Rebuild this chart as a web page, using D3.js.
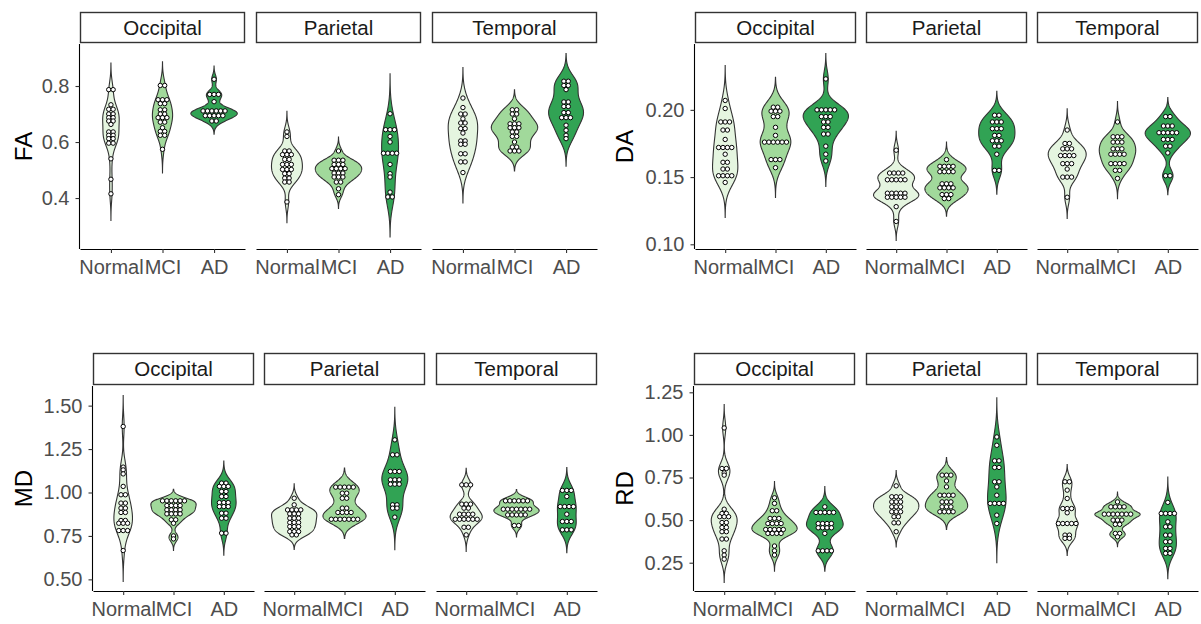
<!DOCTYPE html>
<html><head><meta charset="utf-8">
<script src="https://cdn.jsdelivr.net/npm/d3@7"></script>
<style>body{margin:0;background:#fff} text{font-family:"Liberation Sans",Arial,sans-serif}</style>
</head><body><svg id="chart" width="1201" height="624"></svg>
<script>
const groups = ["Normal", "MCI", "AD"];
const regions = ["Occipital", "Parietal", "Temporal"];
const groupColors = ["#e5f5e0", "#a1d99b", "#31a354"];

const faTicks = [0.4, 0.6, 0.8];
const daTicks = [0.10, 0.15, 0.20];
const mdTicks = [0.50, 0.75, 1.00, 1.25, 1.50];
const rdTicks = [0.25, 0.50, 0.75, 1.00, 1.25];

// values per region: [Normal, MCI, AD]
const faOccipital = [
 [0.787,0.787,0.733,0.717,0.717,0.700,0.700,0.687,0.687,0.675,0.675,0.663,0.636,0.636,0.624,0.624,0.612,0.612,0.596,0.596,0.540,0.467,0.415],
 [0.802,0.802,0.751,0.751,0.751,0.737,0.737,0.715,0.715,0.700,0.700,0.687,0.687,0.687,0.671,0.671,0.651,0.638,0.638,0.624,0.624,0.574],
 [0.824,0.770,0.770,0.770,0.744,0.711,0.711,0.711,0.711,0.711,0.711,0.694,0.694,0.694,0.694,0.694,0.675,0.675]
];
const faParietal = [
 [0.636,0.620,0.568,0.568,0.555,0.555,0.555,0.538,0.538,0.520,0.520,0.520,0.502,0.502,0.502,0.487,0.487,0.471,0.471,0.457,0.457,0.386],
 [0.568,0.535,0.535,0.535,0.520,0.520,0.520,0.505,0.505,0.505,0.505,0.489,0.489,0.489,0.475,0.475,0.475,0.457,0.457,0.433,0.412],
 [0.701,0.644,0.644,0.644,0.620,0.600,0.560,0.560,0.560,0.560,0.520,0.487,0.475,0.421,0.404,0.404]
];
const faTemporal = [
 [0.757,0.723,0.700,0.700,0.683,0.668,0.668,0.648,0.648,0.632,0.604,0.604,0.592,0.592,0.558,0.558,0.529,0.529,0.491],
 [0.715,0.715,0.700,0.700,0.683,0.665,0.665,0.665,0.651,0.651,0.651,0.636,0.636,0.620,0.620,0.600,0.582,0.582,0.568,0.568,0.568],
 [0.817,0.817,0.802,0.802,0.787,0.743,0.743,0.727,0.727,0.705,0.705,0.687,0.687,0.687,0.660,0.642,0.624,0.612]
];
const daOccipital = [
 [0.207,0.201,0.191,0.191,0.191,0.185,0.185,0.178,0.172,0.172,0.172,0.172,0.167,0.161,0.161,0.156,0.156,0.151,0.151,0.151,0.151,0.146],
 [0.202,0.202,0.199,0.199,0.199,0.195,0.195,0.187,0.181,0.176,0.176,0.176,0.176,0.176,0.176,0.163,0.163,0.163,0.157],
 [0.223,0.200,0.200,0.200,0.200,0.200,0.195,0.195,0.195,0.191,0.191,0.187,0.187,0.182,0.182,0.173,0.167,0.162]
];
const daParietal = [
 [0.170,0.153,0.153,0.153,0.153,0.148,0.148,0.148,0.148,0.148,0.138,0.138,0.138,0.138,0.138,0.135,0.135,0.135,0.135,0.135,0.128,0.117],
 [0.163,0.158,0.158,0.158,0.158,0.154,0.154,0.154,0.154,0.145,0.145,0.145,0.142,0.142,0.142,0.142,0.137,0.137,0.137,0.134,0.134],
 [0.196,0.196,0.191,0.191,0.191,0.186,0.186,0.186,0.181,0.181,0.177,0.177,0.177,0.173,0.173,0.167,0.155,0.155]
];
const daTemporal = [
 [0.185,0.175,0.175,0.171,0.171,0.171,0.166,0.166,0.166,0.166,0.160,0.160,0.160,0.156,0.150,0.150,0.150,0.135],
 [0.191,0.180,0.180,0.180,0.176,0.176,0.176,0.171,0.171,0.171,0.167,0.167,0.167,0.167,0.160,0.160,0.160,0.160,0.155,0.155,0.149],
 [0.195,0.195,0.188,0.188,0.188,0.183,0.183,0.183,0.183,0.183,0.178,0.178,0.178,0.173,0.173,0.168,0.151,0.151]
];
const mdOccipital = [
 [1.380,1.146,1.130,1.107,1.035,0.987,0.987,0.939,0.939,0.910,0.910,0.885,0.885,0.839,0.839,0.823,0.823,0.823,0.781,0.781,0.781,0.666],
 [0.952,0.952,0.952,0.952,0.952,0.952,0.925,0.925,0.925,0.925,0.900,0.900,0.900,0.900,0.877,0.877,0.877,0.877,0.843,0.843,0.823,0.750,0.733],
 [1.054,1.054,1.035,1.035,1.035,1.006,1.006,0.977,0.977,0.942,0.942,0.942,0.919,0.919,0.919,0.881,0.881,0.852,0.852,0.766,0.766]
];
const mdParietal = [
 [0.967,0.929,0.900,0.900,0.900,0.900,0.877,0.877,0.877,0.852,0.852,0.852,0.827,0.827,0.827,0.804,0.804,0.804,0.775,0.775,0.775,0.756,0.756],
 [1.031,1.031,1.031,1.031,1.031,0.996,0.996,0.967,0.967,0.910,0.910,0.885,0.885,0.885,0.885,0.846,0.846,0.846,0.846,0.846,0.846,0.846],
 [1.303,1.217,1.217,1.121,1.121,1.121,1.073,1.073,1.073,1.048,1.048,1.048,0.929,0.929,0.910,0.910,0.858]
];
const mdTemporal = [
 [1.044,1.044,1.044,0.933,0.933,0.933,0.910,0.910,0.875,0.875,0.875,0.875,0.846,0.846,0.846,0.846,0.846,0.846,0.800,0.800,0.756],
 [0.952,0.952,0.952,0.952,0.952,0.952,0.904,0.904,0.904,0.904,0.904,0.904,0.904,0.871,0.871,0.871,0.871,0.871,0.810,0.810],
 [1.012,1.012,1.012,0.977,0.919,0.919,0.919,0.919,0.875,0.833,0.833,0.833,0.785,0.785,0.785]
];
const rdOccipital = [
 [1.041,0.803,0.803,0.777,0.764,0.564,0.539,0.539,0.520,0.520,0.520,0.486,0.486,0.457,0.457,0.432,0.432,0.389,0.389,0.320,0.295,0.271],
 [0.631,0.598,0.555,0.555,0.510,0.510,0.510,0.480,0.480,0.480,0.480,0.445,0.445,0.445,0.445,0.445,0.422,0.422,0.422,0.422,0.348,0.320,0.295],
 [0.578,0.545,0.545,0.545,0.545,0.545,0.480,0.480,0.480,0.480,0.455,0.455,0.455,0.455,0.422,0.320,0.320,0.320,0.320]
];
const rdParietal = [
 [0.701,0.637,0.637,0.637,0.607,0.607,0.607,0.578,0.578,0.578,0.549,0.549,0.549,0.520,0.520,0.484,0.484,0.432],
 [0.764,0.764,0.764,0.730,0.695,0.646,0.646,0.646,0.646,0.607,0.607,0.607,0.578,0.578,0.578,0.549,0.549,0.549,0.549],
 [0.988,0.939,0.848,0.848,0.809,0.809,0.725,0.725,0.695,0.646,0.598,0.598,0.598,0.598,0.529,0.480]
];
const rdTemporal = [
 [0.725,0.725,0.676,0.627,0.568,0.568,0.568,0.543,0.480,0.480,0.480,0.480,0.480,0.412,0.412,0.393,0.393],
 [0.607,0.578,0.578,0.578,0.578,0.535,0.535,0.535,0.535,0.535,0.535,0.535,0.500,0.500,0.500,0.475,0.475,0.422,0.422,0.402],
 [0.604,0.539,0.539,0.539,0.539,0.490,0.461,0.461,0.412,0.412,0.373,0.373,0.334,0.334,0.305,0.305]
];

// layout (positions, not data)
const layout = [
 {title:"FA", series:[faOccipital,faParietal,faTemporal], ticks:faTicks, fmt:".1f", domain:[0.218,0.950],
  axisX:79.5, facetX:[80,256,432], facetW:165, stripTop:12, plotTop:44, plotBottom:249, titleX:23.5},
 {title:"DA", series:[daOccipital,daParietal,daTemporal], ticks:daTicks, fmt:".2f", domain:[0.0965,0.249],
  axisX:694.5, facetX:[695,866,1037], facetW:161, stripTop:12, plotTop:44, plotBottom:249, titleX:625},
 {title:"MD", series:[mdOccipital,mdParietal,mdTemporal], ticks:mdTicks, fmt:".2f", domain:[0.433,1.613],
  axisX:92.5, facetX:[93,264,436], facetW:161, stripTop:353, plotTop:386, plotBottom:591, titleX:23.5},
 {title:"RD", series:[rdOccipital,rdParietal,rdTemporal], ticks:rdTicks, fmt:".2f", domain:[0.084,1.287],
  axisX:693.5, facetX:[694,866,1037], facetW:161, stripTop:353, plotTop:386, plotBottom:591, titleX:625}
];

const svg = d3.select("#chart");
const dotR = 2.2;
const FONT = '"Liberation Sans",Arial,sans-serif';

function bwNrd0(v) {
  const s = d3.deviation(v);
  const iqr = d3.quantile(v, 0.75) - d3.quantile(v, 0.25);
  let lo = Math.min(s, iqr / 1.34);
  if (!(lo > 0)) lo = s || Math.abs(v[0]) || 1;
  return 0.9 * lo * Math.pow(v.length, -0.2);
}
function density(v) {
  const sorted = v.slice().sort(d3.ascending);
  const bw = bwNrd0(sorted);
  const lo = sorted[0] - 3 * bw, hi = sorted[sorted.length - 1] + 3 * bw;
  const n = 256, pts = [];
  for (let i = 0; i < n; i++) {
    const y = lo + (hi - lo) * i / (n - 1);
    let s = 0;
    for (const x of sorted) { const u = (y - x) / bw; s += Math.exp(-0.5 * u * u); }
    pts.push({v: y, d: s / (sorted.length * bw * Math.sqrt(2 * Math.PI))});
  }
  return pts;
}

layout.forEach(p => {
  const y = d3.scaleLinear().domain(p.domain).range([p.plotBottom, p.plotTop]);
  const g = svg.append("g");

  // y axis
  const ya = g.append("g").attr("transform", `translate(${p.axisX},0)`)
    .call(d3.axisLeft(y).tickValues(p.ticks).tickFormat(d3.format(p.fmt)).tickSize(4).tickSizeOuter(0).tickPadding(6));
  ya.select(".domain").attr("d", `M0,${p.plotTop}V${p.plotBottom}`).attr("stroke", "#000").attr("stroke-width", 1.1);
  ya.selectAll(".tick line").attr("stroke", "#333").attr("stroke-width", 1.1);
  ya.selectAll(".tick text").attr("fill", "#4d4d4d").style("font-size", "20px").style("font-family", FONT);

  // title
  g.append("text").attr("transform", `translate(${p.titleX},${(p.plotTop + p.plotBottom) / 2}) rotate(-90)`)
    .attr("text-anchor", "middle").attr("dy", "0.35em").style("font-size", "24px").attr("fill", "#000").text(p.title);

  p.series.forEach((reg, ri) => {
    const fx = p.facetX[ri], W = p.facetW;
    const x = d3.scalePoint().domain(groups).range([fx, fx + W]).padding(0.6);
    const step = x.step();

    // strip
    g.append("rect").attr("x", fx + 0.5).attr("y", p.stripTop + 0.5).attr("width", W - 1).attr("height", p.plotTop - p.stripTop - 2)
      .attr("fill", "#fff").attr("stroke", "#333").attr("stroke-width", 1.4);
    g.append("text").attr("x", fx + W / 2).attr("y", (p.stripTop + p.plotTop - 1) / 2).attr("dy", "0.36em")
      .attr("text-anchor", "middle").style("font-size", "20.5px").attr("fill", "#1a1a1a").text(regions[ri]);

    // x axis
    const xa = g.append("g").attr("transform", `translate(0,${p.plotBottom})`)
      .call(d3.axisBottom(x).tickSize(4).tickSizeOuter(0).tickPadding(6.5));
    xa.select(".domain").attr("stroke", "#000").attr("stroke-width", 1.1);
    xa.selectAll(".tick line").attr("stroke", "#333").attr("stroke-width", 1.1);
    xa.selectAll(".tick text").attr("fill", "#4d4d4d").style("font-size", "20px").style("font-family", FONT);

    // violins
    const dens = reg.map(density);
    const maxD = d3.max(dens, ds => d3.max(ds, d => d.d));
    reg.forEach((vals, gi) => {
      const cx = x(groups[gi]);
      const wScale = d3.scaleLinear().domain([0, maxD]).range([0, 0.45 * step]);
      const area = d3.area().y(d => y(d.v)).x0(d => cx - wScale(d.d)).x1(d => cx + wScale(d.d));
      g.append("path").attr("d", area(dens[gi])).attr("fill", groupColors[gi])
        .attr("stroke", "#333").attr("stroke-width", 1.1);

      // dots, stacked centered by value
      const bins = d3.groups(vals, v => v);
      bins.forEach(([v, arr]) => {
        const n = arr.length;
        arr.forEach((_, k) => {
          g.append("circle").attr("cx", cx + (k - (n - 1) / 2) * dotR * 2).attr("cy", y(v)).attr("r", dotR)
            .attr("fill", "#fff").attr("stroke", "#000").attr("stroke-width", 1);
        });
      });
    });
  });
});
</script></body></html>
